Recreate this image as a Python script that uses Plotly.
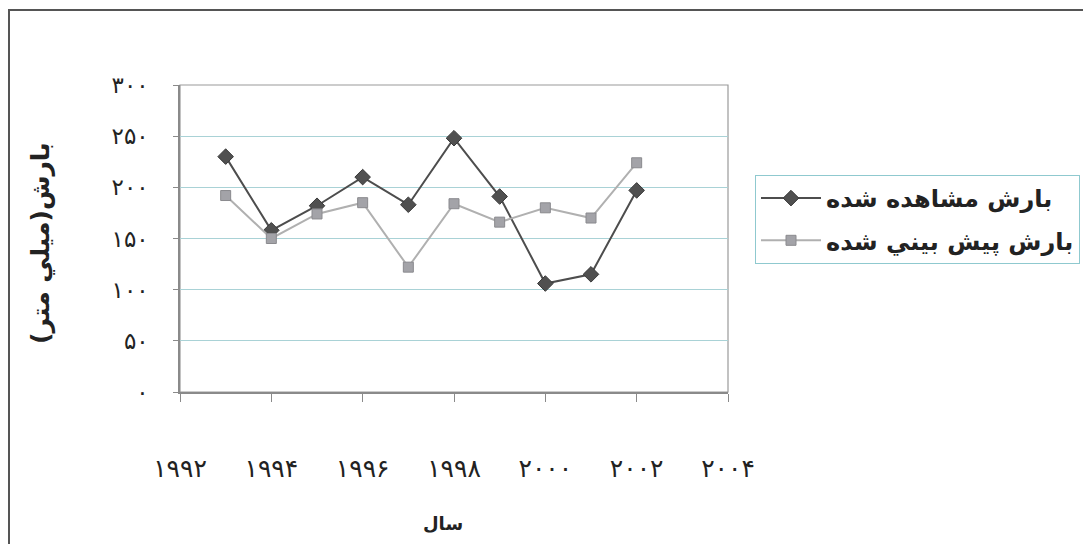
import plotly.graph_objects as go

years = [1993, 1994, 1995, 1996, 1997, 1998, 1999, 2000, 2001, 2002]
observed = [230, 158, 182, 210, 183, 248, 191, 106, 115, 197]
predicted = [192, 150, 174, 185, 122, 184, 166, 180, 170, 224]

x_tickvals = [1992, 1994, 1996, 1998, 2000, 2002, 2004]
x_ticktext = ["۱۹۹۲", "۱۹۹۴", "۱۹۹۶", "۱۹۹۸", "۲۰۰۰", "۲۰۰۲", "۲۰۰۴"]
y_tickvals = [0, 50, 100, 150, 200, 250, 300]
y_ticktext = ["۰", "۵۰", "۱۰۰", "۱۵۰", "۲۰۰", "۲۵۰", "۳۰۰"]

name_obs = "بارش مشاهده شده"
name_pred = "بارش پيش بيني شده"
x_title = "سال"
y_title = "بارش(ميلي متر)"

FONT = "DejaVu Sans"
OFF = 8  # page body margin
W, H = 1091, 544
# plot area in window pixels: x 180..728, y 85..392
L = 180 - OFF
T = 85 - OFF
R = W - (728 - OFF)
B = H - (392 - OFF)
pw, ph = W - L - R, H - T - B

def px_x(p):
    return (p - OFF - L) / pw

def px_y(p):
    return 1 - (p - OFF - T) / ph

fig = go.Figure()
fig.add_trace(go.Scatter(
    x=years, y=observed, name=name_obs, mode="lines+markers", legendgroup="obs",
    line=dict(color="#4d4d4d", width=2),
    marker=dict(symbol="diamond", size=12, color="#505050",
                line=dict(color="#3a3a3a", width=1)),
))
fig.add_trace(go.Scatter(
    x=years, y=predicted, name=name_pred, mode="lines+markers", legendgroup="pred",
    line=dict(color="#b0b0b0", width=2),
    marker=dict(symbol="square", size=10, color="#a3a3a8",
                line=dict(color="#8a8a8e", width=1)),
))

fig.update_layout(
    width=W, height=H,
    margin=dict(l=L, r=R, t=T, b=B, autoexpand=False),
    paper_bgcolor="white", plot_bgcolor="white",
    font=dict(family=FONT, color="#222"),
    showlegend=True,
    legend=dict(
        x=px_x(755), y=px_y(175), xanchor="left", yanchor="top",
        bgcolor="white", bordercolor="#8fc9cf", borderwidth=1,
        font=dict(family=FONT, size=24, color="#222", weight="bold"),
        tracegroupgap=8, itemwidth=60,
    ),
    xaxis=dict(
        range=[1992, 2004], tickvals=x_tickvals, ticktext=x_ticktext,
        showgrid=False, zeroline=False,
        showline=True, linecolor="#8a8a8a", linewidth=1.5,
        ticks="outside", ticklen=8, tickcolor="#8a8a8a",
        ticklabelstandoff=45,
        tickfont=dict(family=FONT, size=25, color="#222"),
    ),
    yaxis=dict(
        range=[0, 300], tickvals=y_tickvals, ticktext=y_ticktext,
        showgrid=True, gridcolor="#a9d2d6", gridwidth=1,
        zeroline=False,
        showline=True, linecolor="#8a8a8a", linewidth=1.5,
        ticks="outside", ticklen=5, tickcolor="#8a8a8a",
        ticklabelstandoff=20,
        tickfont=dict(family=FONT, size=23, color="#222"),
    ),
    shapes=[
        dict(type="rect", xref="x domain", yref="y domain", x0=0, x1=1, y0=0, y1=1,
             line=dict(color="#9a9a9a", width=1.2), fillcolor="rgba(0,0,0,0)", layer="below"),
        dict(type="rect", xref="paper", yref="paper",
             x0=px_x(9), x1=px_x(1110), y0=px_y(560), y1=px_y(10),
             line=dict(color="#555", width=2), fillcolor="rgba(0,0,0,0)"),
    ],
    annotations=[
        dict(text=y_title, xref="paper", yref="paper", x=px_x(41), y=px_y(243),
             textangle=-90, showarrow=False, xanchor="center", yanchor="middle",
             font=dict(family=FONT, size=25, color="#222", weight="bold")),
        dict(text=x_title, xref="paper", yref="paper", x=px_x(443), y=px_y(523),
             showarrow=False, xanchor="center", yanchor="middle",
             font=dict(family=FONT, size=18, color="#222", weight="bold")),
    ],
)

fig.write_html("out.html")
